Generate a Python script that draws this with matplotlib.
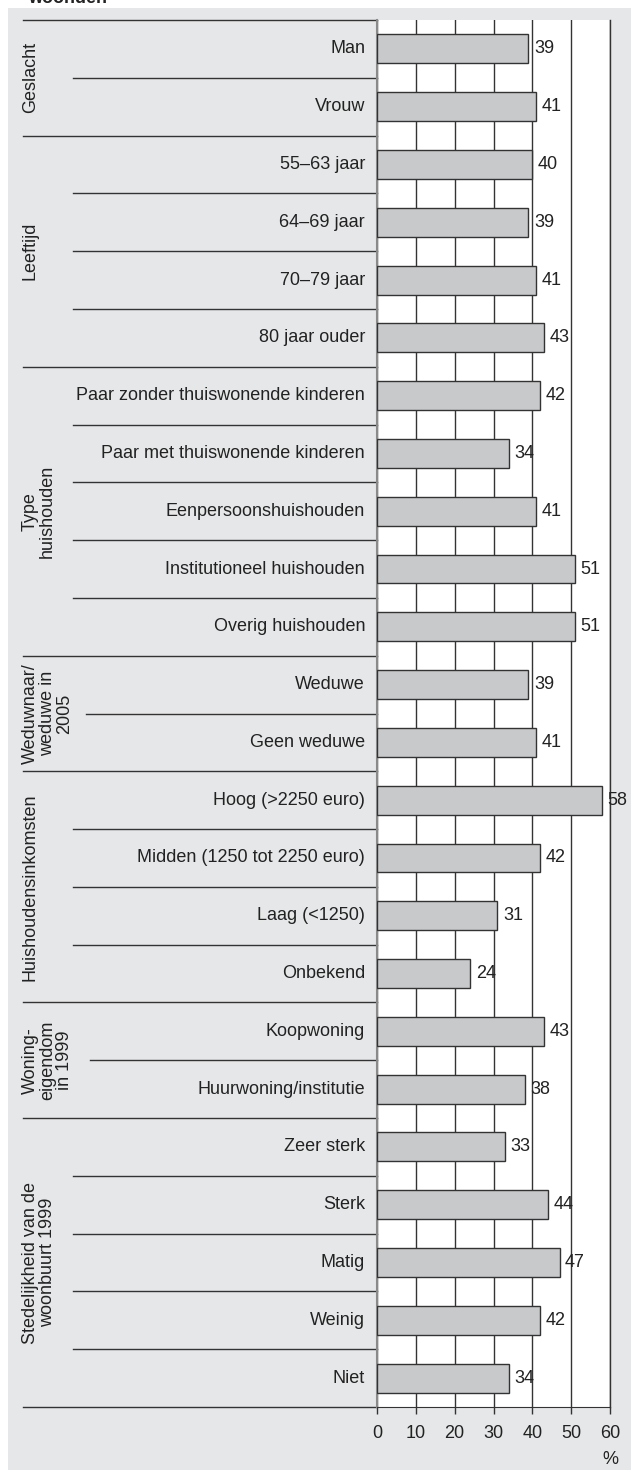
import matplotlib
matplotlib.use('Agg')
import matplotlib.pyplot as plt
import matplotlib.transforms as mtransforms
from matplotlib.patches import Rectangle

plt.rcParams['font.family'] = ['Liberation Sans', 'DejaVu Sans']

# ==========================================
# Data
# ==========================================
categories = [
    'Man', 'Vrouw',
    '55–63 jaar', '64–69 jaar', '70–79 jaar', '80 jaar ouder',
    'Paar zonder thuiswonende kinderen', 'Paar met thuiswonende kinderen',
    'Eenpersoonshuishouden', 'Institutioneel huishouden', 'Overig huishouden',
    'Weduwe', 'Geen weduwe',
    'Hoog (>2250 euro)', 'Midden (1250 tot 2250 euro)', 'Laag (<1250)', 'Onbekend',
    'Koopwoning', 'Huurwoning/institutie',
    'Zeer sterk', 'Sterk', 'Matig', 'Weinig', 'Niet',
]
values = [39, 41, 40, 39, 41, 43, 42, 34, 41, 51, 51, 39, 41,
          58, 42, 31, 24, 43, 38, 33, 44, 47, 42, 34]

group_labels = [
    'Geslacht', 'Leeftijd', 'Type\nhuishouden', 'Weduwnaar/\nweduwe in\n2005',
    'Huishoudensinkomsten', 'Woning-\neigendom\nin 1999',
    'Stedelijkheid van de\nwoonbuurt 1999',
]
group_sizes = [2, 4, 5, 2, 4, 2, 5]

x_ticks = [0, 10, 20, 30, 40, 50, 60]

# ==========================================
# Layout
# ==========================================
W, H = 631, 1470
FS = 13
fig = plt.figure(figsize=(W / 100, H / 100), dpi=100)
fig.patch.set_facecolor('white')

# grey panel (behind everything)
fig.patches.append(Rectangle((8 / W, 0), 1 - 8 / W, 1 - 8 / H, transform=fig.transFigure,
                             facecolor='#e6e7e8', edgecolor='none', zorder=-10))
# clipped title from the page above
fig.text(28 / W, 1 - 3 / H, 'woonden', fontsize=FS, fontweight='bold',
         ha='left', va='baseline', color='#222222')

ax = fig.add_axes([377 / W, 63 / H, 233 / W, (1407 - 20) / H])
ax.set_facecolor('white')

n = len(categories)
ypos = list(range(n))
ax.barh(ypos, values, height=0.5, color='#c8c9cb', edgecolor='#333333', linewidth=1, zorder=3)

for y, v in zip(ypos, values):
    ax.annotate(str(v), (v, y), xytext=(4, 0), textcoords='offset points',
                ha='left', va='center', fontsize=FS, color='#222222', annotation_clip=False)

ax.set_xlim(0, 60)
ax.set_ylim(n - 0.5, -0.5)
ax.set_xticks(x_ticks)
ax.set_xticklabels([str(t) for t in x_ticks], fontsize=FS, color='#222222')
ax.tick_params(axis='x', direction='out', length=5, width=1, color='#333333', pad=8)
ax.set_yticks([])
ax.xaxis.grid(True, color='#333333', linewidth=1)
ax.set_axisbelow(True)

ax.spines['top'].set_visible(False)
ax.spines['right'].set_color('#333333')
ax.spines['right'].set_linewidth(1)
ax.spines['left'].set_color('#8a8a8a')
ax.spines['left'].set_linewidth(1.5)
ax.spines['bottom'].set_color('#333333')

ax.text(1.0, -0.032, '%', transform=ax.transAxes, ha='center', va='top',
        fontsize=FS, color='#222222')

# ==========================================
# Category labels, separators, group labels
# ==========================================
trans = mtransforms.blended_transform_factory(fig.transFigure, ax.transData)
ax_left = 377 / W

for y, c in zip(ypos, categories):
    t = fig.text(365 / W, 0, c, transform=trans, ha='right', va='center',
                 fontsize=FS, color='#222222')
    t.set_y(y)

inner_start = [73, 73, 73, 86, 73, 90, 73]
start = 0
for label, size, x0 in zip(group_labels, group_sizes, inner_start):
    # full-width line at top of group
    ax.plot([23 / W, ax_left], [start - 0.5, start - 0.5], transform=trans,
            color='#333333', linewidth=1, clip_on=False)
    # inner separators
    for k in range(1, size):
        yb = start + k - 0.5
        ax.plot([x0 / W, ax_left], [yb, yb], transform=trans,
                color='#333333', linewidth=1, clip_on=False)
    yc = start + (size - 1) / 2
    t = fig.text(22 / W, 0, label, transform=trans, rotation=90, ha='left', va='center',
                 multialignment='center', fontsize=FS, color='#222222', linespacing=1.0)
    t.set_y(yc)
    start += size

# bottom line
ax.plot([23 / W, ax_left], [n - 0.5, n - 0.5], transform=trans,
        color='#333333', linewidth=1, clip_on=False)

plt.savefig('out.png', dpi=100)
plt.close()
